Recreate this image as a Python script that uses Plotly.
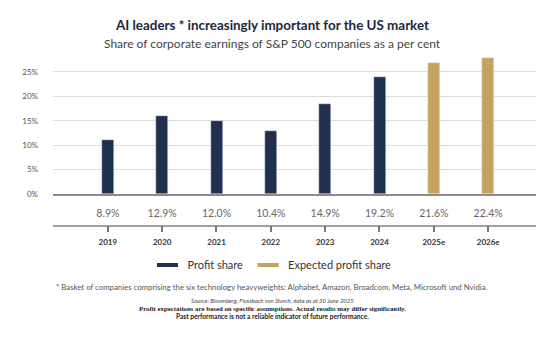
import plotly.graph_objects as go

years = ["2019", "2020", "2021", "2022", "2023", "2024", "2025e", "2026e"]
share_labels = ["8.9%", "12.9%", "12.0%", "10.4%", "14.9%", "19.2%", "21.6%", "22.4%"]
# bar heights as drawn against the printed y-axis
bar_heights = [11.0, 16.0, 15.0, 12.9, 18.5, 23.9, 26.9, 27.9]
is_expected = [False, False, False, False, False, False, True, True]
ytick_vals = [0, 5, 10, 15, 20, 25]
ytick_text = ["0%", "5%", "10%", "15%", "20%", "25%"]

NAVY = "#22304f"
GOLD = "#c4a35e"
FONT = "Lato"

pos = list(range(len(years)))
act_x = [p for p, e in zip(pos, is_expected) if not e]
act_y = [h for h, e in zip(bar_heights, is_expected) if not e]
exp_x = [p for p, e in zip(pos, is_expected) if e]
exp_y = [h for h, e in zip(bar_heights, is_expected) if e]

# layout geometry (pixels)
paper_top, paper_bottom = 50, 250
paper_h = paper_bottom - paper_top
y_base = 194          # 0 % line
y_axis2 = 226         # category axis line
strip_h = paper_bottom - y_base
split = strip_h / paper_h
XR = [-1.01, 7.88]
# strip axis in pixel units, 0 at the category axis line
Y2R = [-(paper_bottom - y_axis2), y_axis2 - y_base]

def py(px):
    return (paper_bottom - px) / paper_h

def px_x(px):
    return (px - 53) / 483.0

def s2(px):
    return y_axis2 - px

fig = go.Figure()
fig.add_trace(go.Bar(x=act_x, y=act_y, marker_color=NAVY, width=0.22,
                     showlegend=False, hoverinfo="skip"))
fig.add_trace(go.Bar(x=exp_x, y=exp_y, marker_color=GOLD, width=0.22,
                     showlegend=False, hoverinfo="skip"))
# legend proxies
fig.add_trace(go.Scatter(x=[None], y=[None], mode="markers", name="Profit share",
                         marker=dict(symbol="line-ew", size=15, line=dict(width=4, color=NAVY))))
fig.add_trace(go.Scatter(x=[None], y=[None], mode="markers", name="Expected profit share",
                         marker=dict(symbol="line-ew", size=15, line=dict(width=4, color=GOLD))))

# category axis line (thin bar spanning the axis range) and tick marks (thin bars)
fig.add_trace(go.Bar(x=[(XR[0] + XR[1]) / 2], y=[1.0], base=[-0.5], width=[XR[1] - XR[0]],
                     xaxis="x2", yaxis="y2", marker=dict(color="#a0a0a0", line=dict(width=0)),
                     showlegend=False, hoverinfo="skip"))
fig.add_trace(go.Bar(x=pos, y=[6.0] * len(pos), base=[-6.0] * len(pos), width=0.02,
                     xaxis="x2", yaxis="y2", marker=dict(color="#777777", line=dict(width=0)),
                     showlegend=False, hoverinfo="skip"))
# value labels row
fig.add_trace(go.Scatter(x=pos, y=[s2(214)] * len(pos),
                         xaxis="x2", yaxis="y2", mode="text", text=share_labels,
                         textfont=dict(family=FONT, size=10.5, color="#666666"),
                         showlegend=False, hoverinfo="skip", cliponaxis=False))
# category labels
fig.add_trace(go.Scatter(x=pos, y=[s2(243)] * len(pos),
                         xaxis="x2", yaxis="y2", mode="text",
                         text=["<b>%s</b>" % y for y in years],
                         textfont=dict(family=FONT, size=8, color="#333333"),
                         showlegend=False, hoverinfo="skip", cliponaxis=False))

fig.update_layout(
    width=536, height=343,
    margin=dict(l=53, r=0, t=paper_top, b=343 - paper_bottom),
    plot_bgcolor="rgba(0,0,0,0)", paper_bgcolor="white",
    bargap=0.0, barmode="overlay",
    showlegend=True,
    legend=dict(orientation="h", x=px_x(272), xanchor="center",
                y=py(265), yanchor="middle",
                font=dict(family=FONT, size=11, color="#333333"),
                itemwidth=30, tracegroupgap=0, bgcolor="rgba(0,0,0,0)"),
    xaxis=dict(range=XR, showticklabels=False, ticks="",
               showgrid=False, showline=True, linecolor="#8c8c8c", linewidth=1.5,
               anchor="y", zeroline=False),
    yaxis=dict(domain=[split, 1], range=[0, 29.5],
               tickmode="array", tickvals=ytick_vals, ticktext=ytick_text,
               tickfont=dict(family=FONT, size=8, color="#555555"),
               showgrid=True, gridcolor="#dcdcdc", gridwidth=1,
               zeroline=False, showline=False, ticks="", ticklabelstandoff=14),
    xaxis2=dict(range=XR, anchor="y2", showticklabels=False, ticks="",
                showline=False, showgrid=False, zeroline=False),
    yaxis2=dict(domain=[0, split], range=Y2R, showticklabels=False, showgrid=False,
                zeroline=False, showline=False, ticks=""),
)

texts = [
    (25, "<b>AI leaders * increasingly important for the US market</b>", FONT, 13.4, "#1c2740"),
    (43, "Share of corporate earnings of S&amp;P 500 companies as a per cent", FONT, 12, "#444444"),
    (287, "* Basket of companies comprising the six technology heavyweights: Alphabet, Amazon, Broadcom, Meta, Microsoft und Nvidia.", FONT, 7.8, "#555555"),
    (300, "<i>Source: Bloomberg, Flossbach von Storch, data as at 30 June 2025</i>", FONT, 5.9, "#444444"),
    (308, "<b>Profit expectations are based on specific assumptions. Actual results may differ significantly.</b>", "Liberation Serif", 6.8, "#222222"),
    (316, "<b>Past performance is not a reliable indicator of future performance.</b>", FONT, 6.6, "#222222"),
]
for ypx, t, fam, sz, col in texts:
    fig.add_annotation(x=px_x(272), y=py(ypx), xref="paper", yref="paper", text=t,
                       showarrow=False, xanchor="center", yanchor="middle",
                       font=dict(family=fam, size=sz, color=col))

fig.write_html("out.html")
